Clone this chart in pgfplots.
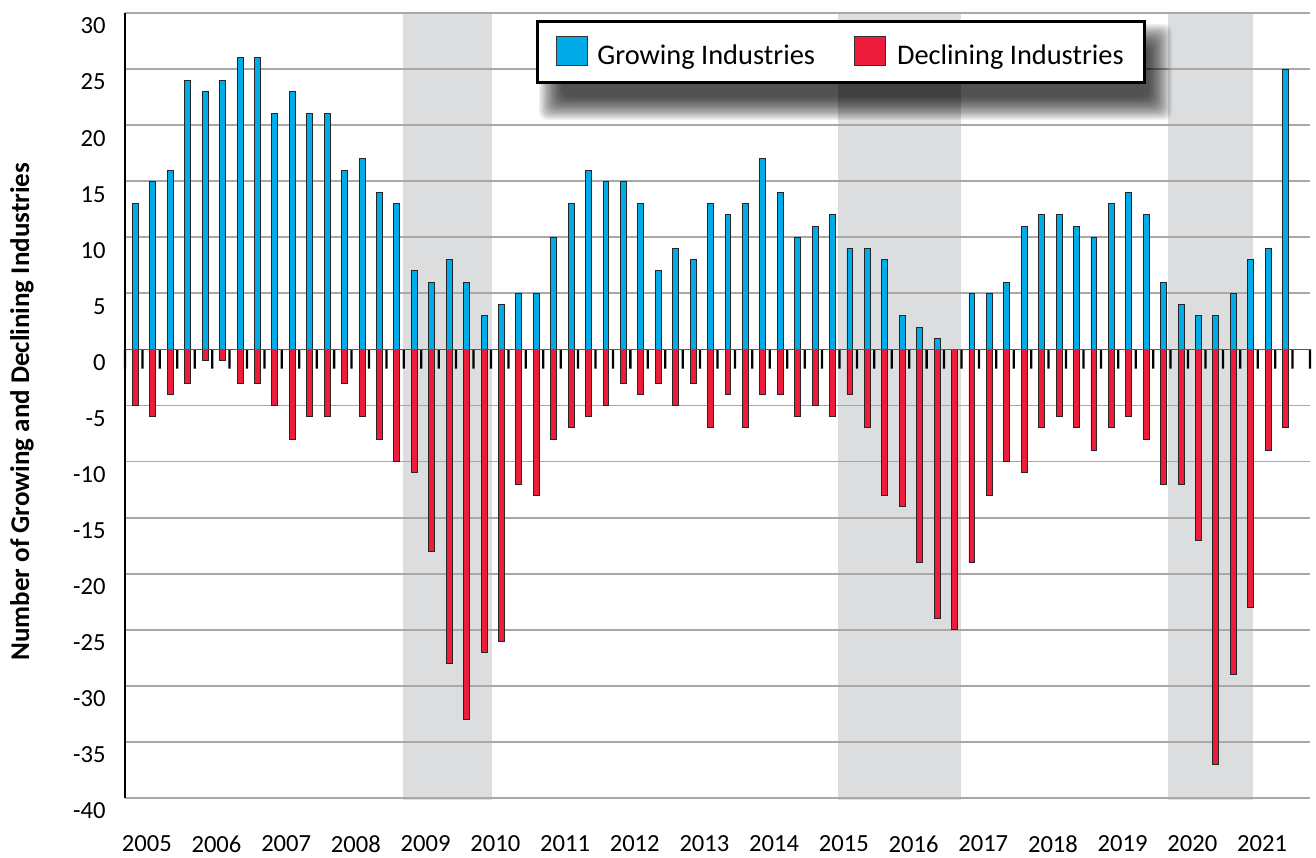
\documentclass[border=0pt]{standalone}
\usepackage{fontspec}
\setmainfont{Carlito}
\usepackage{pgfplots}
\usepackage{pgfplotstable}
\pgfplotsset{compat=1.18}
\definecolor{growblue}{RGB}{0,171,232}
\definecolor{declred}{RGB}{237,28,58}
\definecolor{recgray}{RGB}{220,221,223}
\definecolor{gridgray}{RGB}{168,168,168}

\pgfplotstableread{
idx grow decl
0 13 -5
1 15 -6
2 16 -4
3 24 -3
4 23 -1
5 24 -1
6 26 -3
7 26 -3
8 21 -5
9 23 -8
10 21 -6
11 21 -6
12 16 -3
13 17 -6
14 14 -8
15 13 -10
16 7 -11
17 6 -18
18 8 -28
19 6 -33
20 3 -27
21 4 -26
22 5 -12
23 5 -13
24 10 -8
25 13 -7
26 16 -6
27 15 -5
28 15 -3
29 13 -4
30 7 -3
31 9 -5
32 8 -3
33 13 -7
34 12 -4
35 13 -7
36 17 -4
37 14 -4
38 10 -6
39 11 -5
40 12 -6
41 9 -4
42 9 -7
43 8 -13
44 3 -14
45 2 -19
46 1 -24
47 0 -25
48 5 -19
49 5 -13
50 6 -10
51 11 -11
52 12 -7
53 12 -6
54 11 -7
55 10 -9
56 13 -7
57 14 -6
58 12 -8
59 6 -12
60 4 -12
61 3 -17
62 3 -37
63 5 -29
64 8 -23
65 9 -9
66 25 -7
}\datatable

\pgfplotstableread{
x y
-0.5 -1.7
0.5 -1.7
1.5 -1.7
2.5 -1.7
3.5 -1.7
4.5 -1.7
5.5 -1.7
6.5 -1.7
7.5 -1.7
8.5 -1.7
9.5 -1.7
10.5 -1.7
11.5 -1.7
12.5 -1.7
13.5 -1.7
14.5 -1.7
15.5 -1.7
16.5 -1.7
17.5 -1.7
18.5 -1.7
19.5 -1.7
20.5 -1.7
21.5 -1.7
22.5 -1.7
23.5 -1.7
24.5 -1.7
25.5 -1.7
26.5 -1.7
27.5 -1.7
28.5 -1.7
29.5 -1.7
30.5 -1.7
31.5 -1.7
32.5 -1.7
33.5 -1.7
34.5 -1.7
35.5 -1.7
36.5 -1.7
37.5 -1.7
38.5 -1.7
39.5 -1.7
40.5 -1.7
41.5 -1.7
42.5 -1.7
43.5 -1.7
44.5 -1.7
45.5 -1.7
46.5 -1.7
47.5 -1.7
48.5 -1.7
49.5 -1.7
50.5 -1.7
51.5 -1.7
52.5 -1.7
53.5 -1.7
54.5 -1.7
55.5 -1.7
56.5 -1.7
57.5 -1.7
58.5 -1.7
59.5 -1.7
60.5 -1.7
61.5 -1.7
62.5 -1.7
63.5 -1.7
64.5 -1.7
65.5 -1.7
66.5 -1.7
67.5 -1.7
}\tickmarks

\begin{document}
\begin{tikzpicture}
\begin{axis}[
  set layers,
  at={(0,0)}, anchor=south west,
  scale only axis, width=592.5pt, height=392.5pt,
  xmin=-0.5, xmax=67.5, ymin=-40, ymax=30,
  clip=false,
  axis line style={draw=none},
  ymajorgrids,
  grid style={gridgray, line width=0.9pt},
  ytick={-40,-35,...,30},
  xtick={0.75,4.75,8.75,12.75,16.75,20.75,24.75,28.75,32.75,36.75,40.75,44.75,48.75,52.75,56.75,60.75,64.75},
  xticklabels={2005,2006,2007,2008,2009,2010,2011,2012,2013,2014,2015,2016,2017,2018,2019,2020,2021},
  xtick style={draw=none}, ytick style={draw=none},
  tick label style={font=\fontsize{12.3}{14}\selectfont},
  xticklabel style={anchor=north, inner sep=0pt, yshift=-18.5pt},
  yticklabel style={anchor=east, inner sep=0pt, xshift=-9.5pt, yshift=-6.5pt, /pgf/number format/assume math mode=true},
  ylabel={Number of Growing and Declining Industries},
  ylabel style={font=\bfseries\fontsize{13.5}{16}\selectfont, at={(axis description cs:-0.0869,0.492)}, anchor=center},
]
\begin{pgfonlayer}{axis background}
\fill[recgray] (axis cs:15.43,30) rectangle (axis cs:20.57,-40.2);
\fill[recgray] (axis cs:40.42,30) rectangle (axis cs:47.5,-40.2);
\fill[recgray] (axis cs:59.36,30) rectangle (axis cs:64.23,-40.2);
\end{pgfonlayer}

\addplot[ybar, bar width=0.34, bar shift=0.1, fill=growblue, draw=black!85, line width=0.45pt] table[x=idx, y=grow] {\datatable};
\addplot[ybar, bar width=0.34, bar shift=0.1, fill=declred, draw=black!85, line width=0.45pt] table[x=idx, y=decl] {\datatable};
\addplot[ybar, bar width=0.13, bar shift=0, fill=black, draw=none] table[x=x, y=y] {\tickmarks};

\draw[black!65, line width=0.8pt] (axis cs:-0.5,0) -- (axis cs:67.5,0);
\draw[black, line width=1.1pt] (axis cs:-0.5,-40) -- (axis cs:-0.5,30);
\end{axis}

% legend with soft shadow
\foreach \k in {0,...,19}{
  \fill[black, opacity=0.055, rounded corners=4pt] (207pt+0.6pt*\k, 339pt+0.6pt*\k) rectangle (523.5pt-0.6pt*\k, 387pt-0.6pt*\k);
}
\draw[black, line width=1.5pt, fill=white] (206.25pt,357.75pt) rectangle (509.75pt,388.25pt);
\draw[fill=growblue, draw=black!80, line width=0.5pt] (215.5pt,366pt) rectangle (231pt,380.5pt);
\draw[fill=declred, draw=black!80, line width=0.5pt] (364.5pt,366pt) rectangle (380pt,380.5pt);
\node[anchor=base west, inner sep=0pt, font=\fontsize{14.2}{17}\selectfont] at (236pt,366.5pt) {Growing Industries};
\node[anchor=base west, inner sep=0pt, font=\fontsize{14.2}{17}\selectfont] at (385.85pt,366.5pt) {Declining Industries};
\pgfresetboundingbox
\useasboundingbox (-62.5pt,-29.5pt) rectangle (595.5pt,399pt);
\end{tikzpicture}
\end{document}
